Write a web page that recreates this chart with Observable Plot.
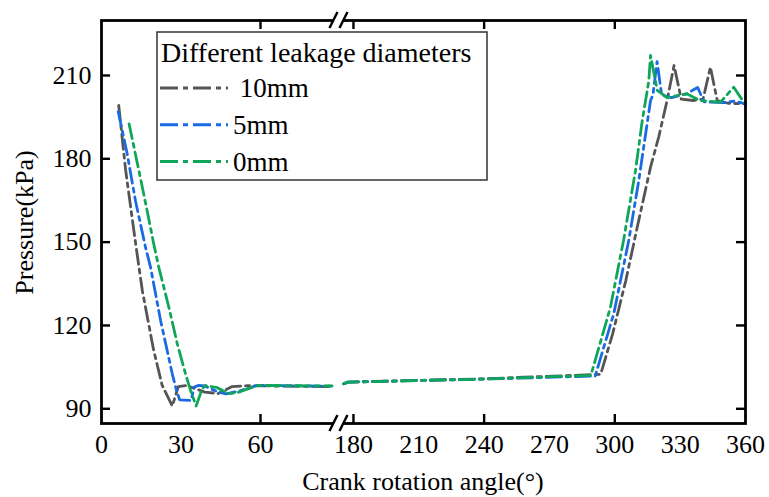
<!DOCTYPE html>
<html>
<head>
<meta charset="utf-8">
<script src="https://cdn.jsdelivr.net/npm/d3@7"></script>
<script src="https://cdn.jsdelivr.net/npm/@observablehq/plot@0.6"></script>
<style>
  html, body { margin: 0; padding: 0; background: #fff; }
  #chart svg { display: block; }
  #chart svg, #chart svg text, #chart svg tspan {
    font-family: "Liberation Serif", "Times New Roman", serif !important;
  }
  #chart svg text { font-size: 26px; }
</style>
</head>
<body>
<div id="chart"></div>
<script>
// Cylinder pressure over one crank revolution for three leakage diameters.
const seriesNames = [" 10mm", "5mm", "0mm"];
const seriesColors = ["#555555", "#1a6be3", "#10a65a"];
const legendTitle = "Different leakage diameters";
const xTitle = "Crank rotation angle(°)";
const yTitle = "Pressure(kPa)";

// 10 mm leakage
const angle10 = [6.5, 9.1, 12.8, 15.4, 19.7, 22.9, 26.7, 29.0, 32.0, 39.0, 44.0, 49.3, 55.0, 87.0,
  175.5, 177.5, 240, 293.5, 299, 305, 310.3, 316.4, 320.2, 324, 327.2, 330.5, 336, 340.5, 343.9, 347, 352, 360];
const pressure10 = [199.2, 176, 150, 132.6, 111, 98.4, 91.0, 98.0, 98.4, 96.0, 95.5, 98.0, 98.3, 98.0,
  99.0, 99.6, 100.8, 102.4, 117, 136, 155.4, 177, 188, 201, 213.6, 201.5, 201, 201.5, 213, 201, 200, 199.8];

// 5 mm leakage
const angle5 = [6.3, 9.7, 12.8, 16.6, 18.5, 22.3, 26.7, 28.2, 29.5, 33.8, 35.0, 36.5, 39.0, 44.0, 47.0, 52.0, 58.7, 87.0,
  175.5, 177.5, 240, 291, 299.5, 306.4, 311, 316.4, 317.5, 319.4, 321.5, 326, 333, 338, 341, 350, 355, 360];
const pressure5 = [197, 181.8, 165, 148.2, 141, 121.8, 102.6, 97.0, 93.2, 93.0, 97.8, 98.4, 98.2, 96.0, 95.4, 96.4, 98.4, 98.1,
  99.0, 99.6, 100.7, 101.8, 124.2, 150.6, 172.2, 201, 203, 215, 203, 202, 203.4, 205.7, 200.5, 200.2, 200.8, 199.8];

// 0 mm leakage
const angle0 = [10.4, 14.1, 17.2, 19.7, 21.6, 25.4, 28.6, 31.7, 33.6, 35.7, 38.0, 39.2, 43.7, 48.0, 51.8, 58.7, 87.0,
  175.5, 177.5, 240, 289, 298, 304, 309.5, 312.6, 315.6, 316.4, 319.5, 324, 333, 339, 348.5, 354.6, 359.2, 360];
const pressure0 = [192.6, 175.8, 161.4, 149.4, 141, 126.6, 113.4, 102.6, 96.6, 91.0, 97.2, 98.4, 97.6, 95.4, 96.0, 98.4, 98.2,
  99.0, 99.6, 100.7, 102, 126.6, 150.6, 175.8, 193.8, 208, 217.2, 204.6, 202, 203.4, 201, 200.4, 205.8, 200.4, 200];

const xTickLabels = [0, 30, 60, 180, 210, 240, 270, 300, 330, 360];
const xTickMarks = [60, 180, 240, 300];
const yTicks = [90, 120, 150, 180, 210];
const breakAngles = [89, 175];   // the x axis skips the range between these angles

// Layout
const W = 769, H = 497;
const ML = 101, MR = 24, MT = 20, MB = 74;
const frameW = W - ML - MR, frameH = H - MT - MB;
const pxPerDegLeft = 2.65, pxPerDegRight = 2.178;
const xRange = [ML, ML + breakAngles[0] * pxPerDegLeft,
                W - MR - (360 - breakAngles[1]) * pxPerDegRight, W - MR];
const tickLen = 9;
const dash = "15,5,4,5";
const serif = "'Liberation Serif', 'Times New Roman', serif";

const rows = [];
[[angle10, pressure10], [angle5, pressure5], [angle0, pressure0]].forEach(([a, p], i) => {
  a.forEach((ang, j) => rows.push({
    series: seriesNames[i], angle: ang, pressure: p[j],
    part: ang <= breakAngles[0] ? 0 : 1
  }));
});

const chart = Plot.plot({
  width: W, height: H,
  marginLeft: ML, marginRight: MR, marginTop: MT, marginBottom: MB,
  style: {fontFamily: serif, fontSize: "26px", color: "#000", background: "#fff"},
  x: {type: "linear", domain: [0, breakAngles[0], breakAngles[1], 360], range: xRange, axis: null},
  y: {domain: [84.7, 229.8], axis: null},
  color: {domain: seriesNames, range: seriesColors},
  marks: [
    Plot.line(rows, {
      x: "angle", y: "pressure", stroke: "series", z: d => d.series + d.part,
      strokeWidth: 2.8, strokeDasharray: dash, curve: "linear"
    }),
    // tick labels
    Plot.text(xTickLabels, {x: d => d, frameAnchor: "bottom", dy: 11, lineAnchor: "top",
      text: d => String(d), fontSize: 26, fill: "#000"}),
    Plot.text(yTicks, {y: d => d, frameAnchor: "left", dx: -10, textAnchor: "end",
      text: d => String(d), fontSize: 26, fill: "#000"}),
    // inward ticks on all four sides
    Plot.tickX(xTickMarks, {x: d => d, insetTop: frameH - tickLen, stroke: "#000", strokeWidth: 2.4}),
    Plot.tickX(xTickMarks, {x: d => d, insetBottom: frameH - tickLen, stroke: "#000", strokeWidth: 2.4}),
    Plot.tickY(yTicks, {y: d => d, insetRight: frameW - tickLen, stroke: "#000", strokeWidth: 2.4}),
    Plot.tickY(yTicks, {y: d => d, insetLeft: frameW - tickLen, stroke: "#000", strokeWidth: 2.4}),
    Plot.frame({stroke: "#000", strokeWidth: 2.8})
  ]
});

document.getElementById("chart").appendChild(chart);

const svg = d3.select(chart);
const xs = chart.scale("x");
const color = chart.scale("color");

// axis break symbol on the top and bottom spines
const bx = (xs.apply(breakAngles[0]) + xs.apply(breakAngles[1])) / 2 - 1;
const brk = svg.append("g");
[MT, H - MB].forEach(y => {
  brk.append("rect").attr("x", bx - 5).attr("y", y - 3).attr("width", 10).attr("height", 6).attr("fill", "#fff");
  [-5, 5].forEach(off => {
    brk.append("line")
      .attr("x1", bx + off - 4).attr("y1", y + 8)
      .attr("x2", bx + off + 4).attr("y2", y - 8)
      .attr("stroke", "#000").attr("stroke-width", 2.4);
  });
});

// axis titles
svg.append("text")
  .attr("x", ML + frameW / 2).attr("y", 490)
  .attr("text-anchor", "middle").attr("fill", "#000")
  .style("font-size", "26px")
  .text(xTitle);
svg.append("text")
  .attr("transform", `translate(33,${MT + frameH / 2 + 1}) rotate(-90)`)
  .attr("text-anchor", "middle").attr("fill", "#000")
  .style("font-size", "26px")
  .text(yTitle);

// legend
const lg = svg.append("g").attr("text-anchor", "start");
lg.append("rect").attr("x", 157).attr("y", 32).attr("width", 330).attr("height", 148)
  .attr("fill", "#fff").attr("stroke", "#333").attr("stroke-width", 1.5);
lg.append("text").attr("x", 161).attr("y", 62).attr("fill", "#000")
  .style("font-size", "28px").text(legendTitle);
seriesNames.forEach((name, i) => {
  const cy = 88 + i * 36.8;
  lg.append("line").attr("x1", 160).attr("x2", 228).attr("y1", cy).attr("y2", cy)
    .attr("stroke", color.apply(name)).attr("stroke-width", 3).attr("stroke-dasharray", "18,5,5,5");
  lg.append("text").attr("x", 233).attr("y", cy + 9).attr("fill", "#000")
    .style("font-size", "27px").style("white-space", "pre").text(name);
});
</script>
</body>
</html>
